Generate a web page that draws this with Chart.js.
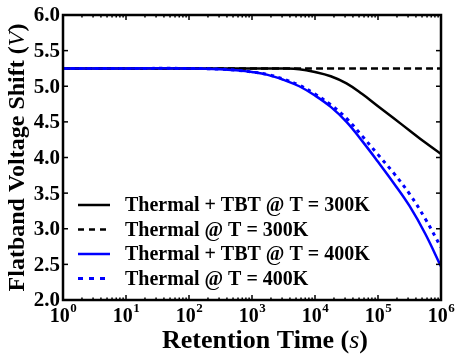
<!DOCTYPE html>
<html>
<head>
<meta charset="utf-8">
<script src="https://cdn.jsdelivr.net/npm/chart.js@4"></script>
<style>
    html, body { margin: 0; padding: 0; background: #fff; }
    canvas { display: block; }
</style>
</head>
<body>
<canvas id="flatbandChart" width="457" height="354"></canvas>
<script>
// retention time as log10(t / s)
const LOG_T = [0, 1, 2, 2.5, 2.75, 3, 3.25, 3.5, 3.75, 4, 4.25, 4.5, 4.75, 5, 5.25, 5.5, 5.75, 6];

const TBT_300K     = [5.25, 5.25, 5.25, 5.25, 5.25, 5.25, 5.25, 5.25, 5.24, 5.20, 5.14, 5.04, 4.89, 4.72, 4.55, 4.38, 4.21, 4.05];
const THERMAL_300K = [5.25, 5.25, 5.25, 5.25, 5.25, 5.25, 5.25, 5.25, 5.25, 5.25, 5.25, 5.25, 5.25, 5.25, 5.25, 5.25, 5.25, 5.25];
const TBT_400K     = [5.25, 5.25, 5.25, 5.24, 5.225, 5.20, 5.16, 5.09, 5.00, 4.87, 4.71, 4.50, 4.23, 3.94, 3.64, 3.32, 2.93, 2.47];
const THERMAL_400K = [5.25, 5.25, 5.25, 5.24, 5.225, 5.20, 5.165, 5.10, 5.015, 4.89, 4.74, 4.55, 4.30, 4.04, 3.78, 3.49, 3.14, 2.74];

const LABELS = [
    'Thermal + TBT @ T = 300K',
    'Thermal @ T = 300K',
    'Thermal + TBT @ T = 400K',
    'Thermal @ T = 400K'
];

const X_TICKS = [0, 1, 2, 3, 4, 5, 6];
const Y_TICKS = [2.0, 2.5, 3.0, 3.5, 4.0, 4.5, 5.0, 5.5, 6.0];

const SERIF = '"Liberation Serif", "Times New Roman", serif';
const BLUE = '#0000ff';

function toPoints(values)
{
    return values.map((v, i) => ({ x: LOG_T[i], y: v }));
}

function strokeLine(ctx, x1, y1, x2, y2)
{
    ctx.beginPath();
    ctx.moveTo(x1, y1);
    ctx.lineTo(x2, y2);
    ctx.stroke();
}

function drawParts(ctx, parts, size, cx, baseline)
{
    let total = 0;
    parts.forEach(([t, s]) => {
        ctx.font = `${s} ${size}px ${SERIF}`;
        total += ctx.measureText(t).width;
    });
    let xPos = cx - total / 2;
    ctx.textAlign = 'left';
    ctx.textBaseline = 'alphabetic';
    parts.forEach(([t, s]) => {
        ctx.font = `${s} ${size}px ${SERIF}`;
        ctx.fillText(t, xPos, baseline);
        xPos += ctx.measureText(t).width;
    });
}

// frame, inward ticks, tick labels, titles and legend
const framePlugin = {
    id: 'framePlugin',
    afterDraw(chart)
    {
        const { ctx, chartArea: a, scales: { x, y } } = chart;

        ctx.save();
        ctx.strokeStyle = '#000';
        ctx.fillStyle = '#000';
        ctx.setLineDash([]);

        ctx.lineWidth = 1.5;
        Y_TICKS.forEach(v => {
            const py = y.getPixelForValue(v);
            strokeLine(ctx, a.left, py, a.left + 5, py);
            strokeLine(ctx, a.right - 5, py, a.right, py);
        });

        X_TICKS.forEach(d => {
            const px = x.getPixelForValue(d);
            strokeLine(ctx, px, a.bottom, px, a.bottom - 5);
            strokeLine(ctx, px, a.top, px, a.top + 5);
            if (d < 6)
            {
                for (let k = 2; k <= 9; k++)
                {
                    const mx = x.getPixelForValue(d + Math.log10(k));
                    strokeLine(ctx, mx, a.bottom, mx, a.bottom - 2.5);
                    strokeLine(ctx, mx, a.top, mx, a.top + 2.5);
                }
            }
        });

        ctx.lineWidth = 2.5;
        ctx.strokeRect(a.left, a.top, a.right - a.left, a.bottom - a.top);

        // y tick labels
        ctx.font = `bold 21px ${SERIF}`;
        ctx.textAlign = 'right';
        ctx.textBaseline = 'middle';
        Y_TICKS.forEach(v => {
            ctx.fillText(v.toFixed(1), a.left - 3, y.getPixelForValue(v) + 1);
        });

        // x tick labels 10^n
        ctx.textAlign = 'left';
        ctx.textBaseline = 'alphabetic';
        X_TICKS.forEach(d => {
            const px = x.getPixelForValue(d);
            ctx.font = `bold 20px ${SERIF}`;
            const wBase = ctx.measureText('10').width;
            ctx.font = `bold 13px ${SERIF}`;
            const wExp = ctx.measureText(String(d)).width;
            const left = px - (wBase + wExp) / 2;
            ctx.font = `bold 20px ${SERIF}`;
            ctx.fillText('10', left, a.bottom + 22);
            ctx.font = `bold 13px ${SERIF}`;
            ctx.fillText(String(d), left + wBase + 0.5, a.bottom + 12);
        });

        // x title
        drawParts(ctx, [['Retention Time (', 'bold'], ['s', 'italic'], [')', 'bold']], 26, 265, 348);

        // y title
        ctx.save();
        ctx.translate(24, (a.top + a.bottom) / 2);
        ctx.rotate(-Math.PI / 2);
        drawParts(ctx, [['Flatband Voltage Shift (', 'bold'], ['V', 'italic'], [')', 'bold']], 24, 0, 0);
        ctx.restore();

        // legend
        ctx.textAlign = 'left';
        ctx.textBaseline = 'middle';
        ctx.font = `bold 20px ${SERIF}`;
        chart.data.datasets.forEach((ds, i) => {
            const ly = a.top + 190 + i * 24.5;
            ctx.strokeStyle = ds.borderColor;
            ctx.lineWidth = ds.borderWidth;
            ctx.setLineDash(ds.legendDash || []);
            strokeLine(ctx, a.left + 15, ly, a.left + 47, ly);
            ctx.setLineDash([]);
            ctx.fillText(ds.label, a.left + 62, ly + 1);
        });

        ctx.restore();
    }
};

const chartCtx = document.getElementById('flatbandChart').getContext('2d');

new Chart(chartCtx, {
    type: 'line',
    data: {
        datasets: [
            {
                label: LABELS[0],
                data: toPoints(TBT_300K),
                borderColor: '#000',
                borderWidth: 2.5,
                order: 2
            },
            {
                label: LABELS[1],
                data: toPoints(THERMAL_300K),
                borderColor: '#000',
                borderWidth: 2.5,
                borderDash: [7, 4],
                legendDash: [6, 5],
                order: 3
            },
            {
                label: LABELS[2],
                data: toPoints(TBT_400K),
                borderColor: BLUE,
                borderWidth: 2.5,
                order: 0
            },
            {
                label: LABELS[3],
                data: toPoints(THERMAL_400K),
                borderColor: BLUE,
                borderWidth: 3,
                borderDash: [3.5, 4.5],
                legendDash: [5, 6],
                order: 1
            }
        ]
    },
    options: {
        responsive: false,
        animation: false,
        devicePixelRatio: 1,
        layout: { padding: { left: 63, right: 16, top: 15, bottom: 54 } },
        elements: {
            point: { radius: 0 },
            line: { tension: 0.4, fill: false }
        },
        plugins: {
            legend: { display: false },
            tooltip: { enabled: false }
        },
        scales: {
            x: { type: 'linear', min: 0, max: 6, display: false },
            y: { type: 'linear', min: 2, max: 6, display: false }
        }
    },
    plugins: [framePlugin]
});
</script>
</body>
</html>
